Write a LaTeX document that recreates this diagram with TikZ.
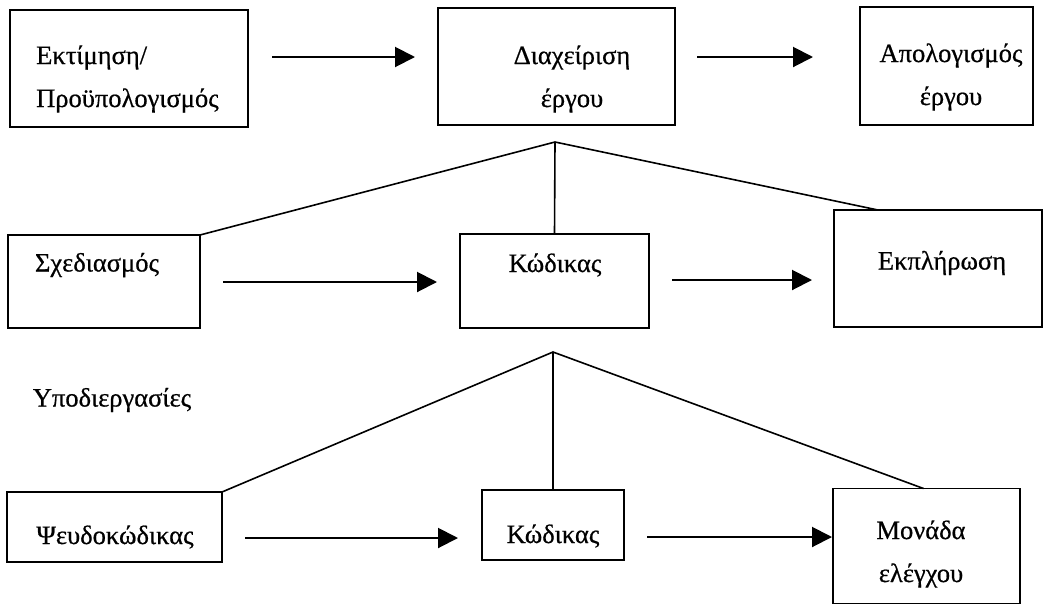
\documentclass[tikz,border=0pt]{standalone}
\usepackage{fontspec}
\setmainfont[FakeBold=0.6]{Liberation Serif}
\usetikzlibrary{arrows.meta,calc}

\begin{document}
\begin{tikzpicture}[x=1pt,y=-1pt,
  box/.style={draw,line width=1.6pt,rectangle,inner sep=0pt,outer sep=0pt},
  txt/.style={font=\fontsize{26.5}{43}\selectfont,inner sep=0pt},
  link/.style={line width=1.6pt},
  arr/.style={line width=2pt,-{Triangle[length=20pt,width=20pt]}}]
\useasboundingbox (0,0) rectangle (1047,606);

% top level: project phases
\node[box,minimum width=238,minimum height=117] (b1) at (129,68.5) {};
\node[box,minimum width=237,minimum height=117] (b2) at (556.5,66.5) {};
\node[box,minimum width=173,minimum height=118] (b3) at (946.5,66) {};
\node[txt,align=left,anchor=west] (t1) at (36,79) {Εκτίμηση/\\Προϋπολογισμός};
\node[txt,align=center] (t2) at (572,79) {Διαχείριση\\έργου};
\node[txt,align=center] (t3) at (951,77) {Απολογισμός\\έργου};

% second level
\node[box,minimum width=192,minimum height=93] (sx) at (104,281.5) {};
\node[box,minimum width=189,minimum height=94] (k1) at (554.5,281) {};
\node[box,minimum width=208,minimum height=117] (ek) at (938,268.5) {};
\node[txt] (ts) at (97,265) {Σχεδιασμός};
\node[txt] (tk1) at (555,265) {Κώδικας};
\node[txt] (te) at (942,263) {Εκπλήρωση};

\node[txt] (tu) at (112,400) {Υποδιεργασίες};

% third level: sub-tasks
\node[box,minimum width=215,minimum height=70] (ps) at (114.5,527) {};
\node[box,minimum width=142,minimum height=70] (k2) at (553,525) {};
\node[box,minimum width=187,minimum height=115] (mo) at (926.5,546) {};
\node[txt] (tp) at (115,537) {Ψευδοκώδικας};
\node[txt] (tk2) at (553,536) {Κώδικας};
\node[txt,align=center] (tm) at (921,554) {Μονάδα\\ελέγχου};

% branch points
\coordinate (j1) at (555,142);
\coordinate (j2) at (553,352);
\draw[link] (sx.north east) -- (j1) -- ($(ek.north west)+(44,0)$);
\draw[link] (j1) -- (k1.north);
\draw[link] (ps.north east) -- (j2) -- ($(mo.north)+(-3,0)$);
\draw[link] (j2) -- (k2.north);

% arrow rows
\coordinate (r1) at (0,57);
\coordinate (r2) at (0,282);
\coordinate (r2b) at (0,280);
\coordinate (r3) at (0,538);
\coordinate (r3b) at (0,537);
\draw[arr,shorten <=24pt,shorten >=23pt] (b1.east |- r1) -- (b2.west |- r1);
\draw[arr,shorten <=22pt,shorten >=47pt] (b2.east |- r1) -- (b3.west |- r1);
\draw[arr,shorten <=23pt,shorten >=23pt] (sx.east |- r2) -- (k1.west |- r2);
\draw[arr,shorten <=23pt,shorten >=22pt] (k1.east |- r2b) -- (ek.west |- r2b);
\draw[arr,shorten <=23pt,shorten >=24pt] (ps.east |- r3) -- (k2.west |- r3);
\draw[arr,shorten <=23pt,shorten >=1pt] (k2.east |- r3b) -- (mo.west |- r3b);
\end{tikzpicture}
\end{document}
